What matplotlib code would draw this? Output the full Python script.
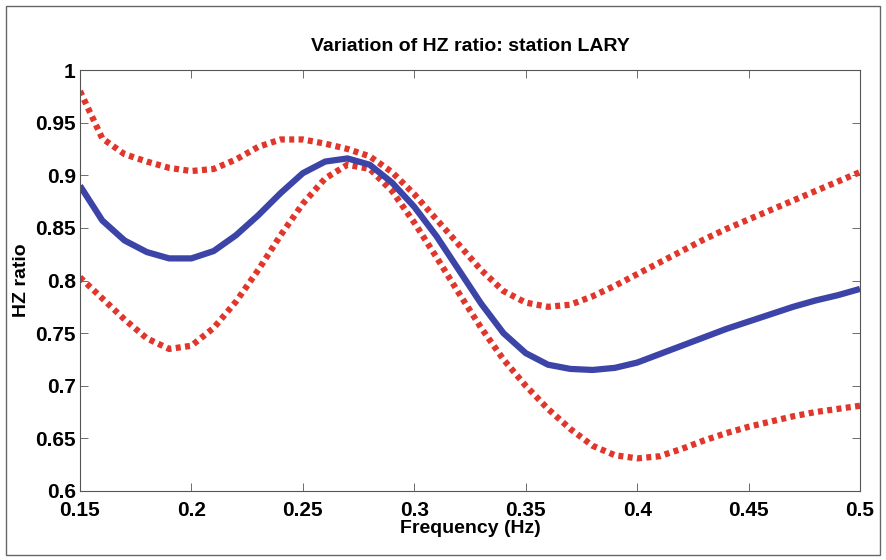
import numpy as np
import matplotlib
matplotlib.use("Agg")
import matplotlib.pyplot as plt
from matplotlib.patches import Rectangle
from matplotlib.ticker import FuncFormatter

plt.rcParams['font.family'] = ['Liberation Sans', 'DejaVu Sans']

freq = [0.15, 0.16, 0.17, 0.18, 0.19, 0.20, 0.21, 0.22, 0.23, 0.24, 0.25, 0.26,
        0.27, 0.28, 0.29, 0.30, 0.31, 0.32, 0.33, 0.34, 0.35, 0.36, 0.37, 0.38,
        0.39, 0.40, 0.41, 0.42, 0.43, 0.44, 0.45, 0.46, 0.47, 0.48, 0.49, 0.50]

hz_mean = [0.890, 0.857, 0.838, 0.827, 0.821, 0.821, 0.828, 0.843, 0.862, 0.883,
           0.902, 0.913, 0.916, 0.910, 0.893, 0.870, 0.842, 0.810, 0.778, 0.750,
           0.731, 0.720, 0.716, 0.715, 0.717, 0.722, 0.730, 0.738, 0.746, 0.754,
           0.761, 0.768, 0.775, 0.781, 0.786, 0.792]

hz_upper = [0.980, 0.935, 0.920, 0.913, 0.907, 0.904, 0.906, 0.915, 0.927, 0.934,
            0.934, 0.930, 0.925, 0.918, 0.903, 0.882, 0.858, 0.834, 0.810, 0.790,
            0.779, 0.775, 0.777, 0.785, 0.795, 0.806, 0.817, 0.828, 0.839, 0.849,
            0.858, 0.867, 0.876, 0.885, 0.894, 0.903]

hz_lower = [0.803, 0.783, 0.763, 0.745, 0.735, 0.738, 0.755, 0.780, 0.810, 0.843,
            0.873, 0.897, 0.910, 0.906, 0.885, 0.855, 0.822, 0.788, 0.755, 0.725,
            0.700, 0.678, 0.659, 0.643, 0.634, 0.631, 0.633, 0.640, 0.648, 0.655,
            0.661, 0.666, 0.671, 0.675, 0.678, 0.681]

xticks = [0.15, 0.2, 0.25, 0.3, 0.35, 0.4, 0.45, 0.5]
yticks = [0.6, 0.65, 0.7, 0.75, 0.8, 0.85, 0.9, 0.95, 1.0]

fig = plt.figure(figsize=(8.86, 5.6), dpi=100)
ax = fig.add_axes([80/886, 69/560, 780/886, 421/560])

red = '#e0362b'
blue = '#3c44a8'
dots = (0, (0.8, 0.7))
ax.plot(freq, hz_upper, color=red, lw=4.5, linestyle=dots, dash_capstyle='butt')
ax.plot(freq, hz_lower, color=red, lw=4.5, linestyle=dots, dash_capstyle='butt')
ax.plot(freq, hz_mean, color=blue, lw=4.5, solid_capstyle='butt')

ax.set_xlim(0.15, 0.5)
ax.set_ylim(0.6, 1.0)
ax.set_xticks(xticks)
ax.set_yticks(yticks)
fmt = FuncFormatter(lambda v, p: ('%.2f' % v).rstrip('0').rstrip('.'))
ax.xaxis.set_major_formatter(fmt)
ax.yaxis.set_major_formatter(fmt)
ax.tick_params(direction='in', length=6, width=0.6, color='#555555',
               top=True, right=True, labelsize=15)
ax.tick_params(axis='x', pad=7)
ax.tick_params(axis='y', pad=3)
for lab in ax.get_xticklabels() + ax.get_yticklabels():
    lab.set_fontweight('bold')
for s in ax.spines.values():
    s.set_linewidth(0.8)
    s.set_color('#555555')

ax.set_title('Variation of HZ ratio: station LARY', fontsize=14, fontweight='bold', pad=14)
ax.set_xlabel('Frequency (Hz)', fontsize=14, fontweight='bold', labelpad=0)
ax.set_ylabel('HZ ratio', fontsize=14, fontweight='bold', labelpad=4)

fig.patches.append(Rectangle((6/886, 5/560), 874/886, 549/560, transform=fig.transFigure,
                             fill=False, edgecolor='#666666', lw=1.0))

fig.savefig('out.png', dpi=100)
